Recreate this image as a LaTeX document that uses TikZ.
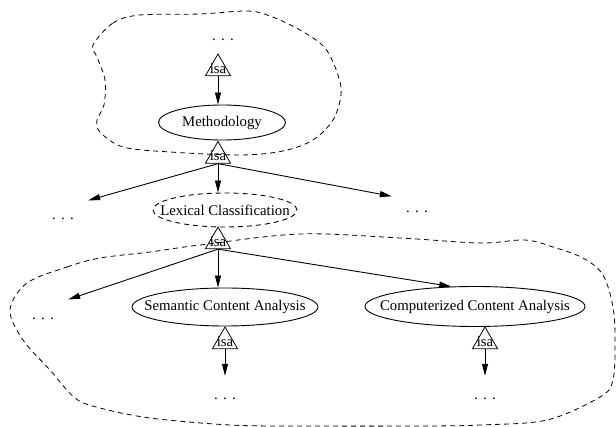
\documentclass[tikz,border=0pt]{standalone}
\usepackage{fontspec}
\setmainfont{Liberation Serif}
\usetikzlibrary{shapes.geometric,arrows.meta}
\newcommand{\cltext}[1]{\makebox[0pt][c]{#1}}
\begin{document}
\begin{tikzpicture}[x=1pt,y=-1pt,
  every node/.style={font=\fontsize{14.8}{17}\selectfont},
  concept/.style={ellipse,draw,line width=0.9pt,inner sep=0pt},
  isatri/.style={regular polygon,regular polygon sides=3,draw,line width=0.8pt,
    minimum size=29pt,inner sep=0pt,label={[inner sep=0pt]center:isa}},
  more/.style={inner sep=0pt,minimum width=50pt,text height=24pt,text depth=0pt},
  rel/.style={line width=0.9pt,-{Triangle[length=12pt,width=6pt]}},
  scopeline/.style={dash pattern=on 5pt off 4pt,line width=0.8pt},
]
\useasboundingbox (0,0) rectangle (616,427);

% scope outlines
\draw[scopeline] plot[smooth cycle,tension=0.55] coordinates {
  (93,45) (113,23) (140,15) (200,14) (247,11) (270,16) (300,30) (325,48)
  (338,75) (341,95) (333,120) (313,140) (283,151) (240,155) (170,152)
  (123,147) (100,132) (97,120) (104,105) (105,80) (97,57)};
\draw[scopeline] plot[smooth cycle,tension=0.55] coordinates {
  (27,283) (67,267) (100,258) (150,252) (200,245) (300,234) (400,238)
  (480,243) (525,240) (553,247) (583,258) (603,275) (613,307) (615,340)
  (613,380) (600,397) (547,420) (480,425) (423,426) (300,426) (230,425)
  (150,418) (100,408) (75,398) (50,370) (23,340) (10,310)};

% nodes
\node[more] (topd) at (223,29) {.\hspace{5.3pt}.\hspace{5.3pt}.};
\node[isatri] (t1) at (218,68.5) {};
\node[concept,minimum width=127pt,minimum height=35pt] (meth) at (222,122.5) {\cltext{Methodology}};
\node[isatri] (t2) at (218,156) {};
\node[more] (ld1) at (63,207.5) {.\hspace{5.3pt}.\hspace{5.3pt}.};
\node[concept,dash pattern=on 5pt off 4pt,minimum width=144pt,minimum height=34pt] (lex) at (225,210) {\cltext{Lexical Classification}};
\node[more] (rd1) at (417,201) {.\hspace{5.3pt}.\hspace{5.3pt}.};
\node[isatri] (t3) at (218,241.5) {};
\node[more] (ld2) at (43,308) {.\hspace{5.3pt}.\hspace{5.3pt}.};
\node[concept,minimum width=186pt,minimum height=38pt] (sem) at (225,307) {\cltext{Semantic Content Analysis}};
\node[concept,minimum width=220pt,minimum height=40pt] (comp) at (475,306.5) {\cltext{Computerized Content Analysis}};
\node[isatri] (t4) at (225,341.5) {};
\node[isatri] (t5) at (485,341.5) {};
\node[more] (d4) at (225,388) {.\hspace{5.3pt}.\hspace{5.3pt}.};
\node[more] (d5) at (485,388) {.\hspace{5.3pt}.\hspace{5.3pt}.};

% connectors
\draw[rel] (t1.south) -- (t1.south |- meth.north);
\draw[rel] (t2.south) -- (ld1);
\draw[rel] (t2.south) -- (t2.south |- lex.north);
\draw[rel] (t2.south) -- (rd1);
\draw[rel] (t3.south) -- (ld2);
\draw[rel] (t3.south) -- (t3.south |- sem.north);
\draw[rel] (t3.south) -- (comp.140);
\draw[rel] (t4.south) -- (d4);
\draw[rel] (t5.south) -- (d5);
\end{tikzpicture}
\end{document}
